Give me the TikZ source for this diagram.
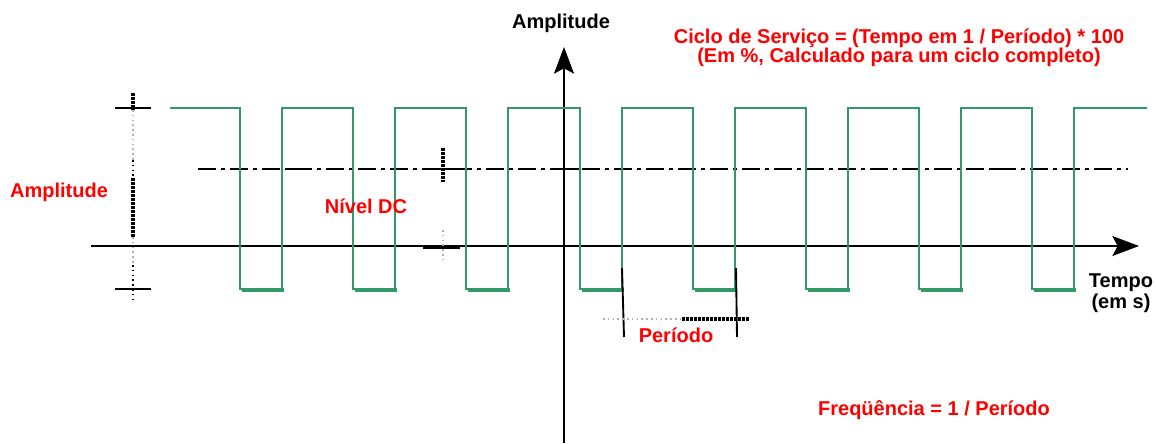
\documentclass[tikz,border=0pt]{standalone}
\usepackage{fontspec}
\setmainfont{Liberation Sans}
\usetikzlibrary{arrows.meta}

\begin{document}
\begin{tikzpicture}[
    x=0.75pt, y=-0.75pt,
    every node/.style={font=\bfseries\fontsize{15}{17}\selectfont},
]

% ---------------------------------------------------------------- colours
\definecolor{wavecolor}{HTML}{339966}   % the square wave
\definecolor{notecolor}{HTML}{FF0000}   % red annotations
\definecolor{inkcolor}{HTML}{000000}    % axes, markers
\definecolor{fadecolor}{HTML}{B0B0B0}   % faded parts of the dotted markers

% ================================================================
% Geometry, in pixels of the 1156 x 443 frame (y grows downwards).
%
%   wave high y = 108, low y = 289, time axis y = 246
%   falling edges x = 240 + 113.2 k, rising edges x = 282 + 113.2 k, k = 0..7
%   DC level (dash-dot) y = 169, from x = 198 to 1128
%   value axis x = 564, arrow tip at y = 47
% ================================================================

\def\per{113.2}

\tikzset{
    axis/.style={draw=inkcolor, line width=1.1pt,
        -{Stealth[length=20pt, width=15pt, inset=4pt]}},
    wave/.style={draw=wavecolor, line width=1.5pt},
    wavelow/.style={draw=wavecolor, line width=3pt},
    dcline/.style={draw=inkcolor, line width=0.9pt,
        dash pattern=on 13.5pt off 3.75pt on 3pt off 3.75pt},
    dcbit/.style={draw=inkcolor, line width=2.2pt},
    tickmark/.style={draw=inkcolor, line width=1.4pt},
    dotthin/.style={draw=inkcolor, line width=1.2pt,
        dash pattern=on 1.2pt off 2.4pt},
    dotfade/.style={dotthin, draw=fadecolor},
    dotthick/.style={draw=inkcolor, line width=2.4pt,
        dash pattern=on 2pt off 1pt},
    note/.style={text=notecolor, anchor=base, inner sep=0pt},
    label/.style={text=inkcolor, anchor=base, inner sep=0pt},
}

\useasboundingbox (0,0) rectangle (1156,443);

% ---------------------------------------------------------------- axes
\coordinate (tstart) at (91,246);
\coordinate (tend)   at (1139,246);
\coordinate (vstart) at (564,443);
\coordinate (vend)   at (564,47);

\draw[axis] (tstart) -- (tend);
\draw[axis] (vstart) -- (vend);

% ---------------------------------------------------------------- DC level
\draw[dcline] (198,169) -- (1128,169);
\foreach \xa/\xb in {288/306, 562/581, 990/1006} {
    \draw[dcbit] (\xa,169) -- (\xb,169);
}

% ---------------------------------------------------------------- the wave
\draw[wave] (170,108)
    \foreach \k in {0,...,7} {
        -- ({240+\k*\per},108) -- ({240+\k*\per},289)
        -- ({282+\k*\per},289) -- ({282+\k*\per},108)
    } -- (1147,108);
\foreach \k in {0,...,7} {
    \draw[wavelow] ({242+\k*\per},290) -- ({284+\k*\per},290);
}

% ---------------------------------------------------------------- amplitude marker
\draw[dotthick] (133,93) -- (133,110);
\draw[dotfade]  (133,110) -- (133,160);
\draw[dotthin]  (133,160) -- (133,178);
\draw[dotthick] (133,178) -- (133,237);
\draw[dotfade]  (133,237) -- (133,265);
\draw[dotthin]  (133,265) -- (133,302);
\draw[tickmark] (115,108) -- (151,108);
\draw[tickmark] (115,289) -- (151,289);

% ---------------------------------------------------------------- DC marker
\draw[dotthick] (443,148) -- (443,182);
\draw[dotfade]  (443,230) -- (443,260);
\draw[tickmark] (423,169) -- (460,169);
\draw[tickmark] (423,248) -- (460,248);

% ---------------------------------------------------------------- period marker
\draw[tickmark] (622,268) -- (624,337);
\draw[tickmark] (736,268) -- (737,337);
\draw[dotfade]  (603,319) -- (682,319);
\draw[dotthick] (682,319) -- (749,319);

% ---------------------------------------------------------------- labels
\node[label] (vlabel) at (561,28) {Amplitude};
\node[label] (tlabel) at (1121,287) {Tempo};
\node[label] (tunit)  at (1121,308) {(em s)};

\node[note] (duty)  at (899,43) {Ciclo de Serviço = (Tempo em 1 / Período) * 100};
\node[note] (dutyb) at (899,62) {(Em \%, Calculado para um ciclo completo)};
\node[note] (amp)   at (59,197) {Amplitude};
\node[note] (dc)    at (366,213) {Nível DC};
\node[note] (per)   at (676,342) {Período};
\node[note] (freq)  at (934,415) {Freqüência = 1 / Período};

\end{tikzpicture}
\end{document}
